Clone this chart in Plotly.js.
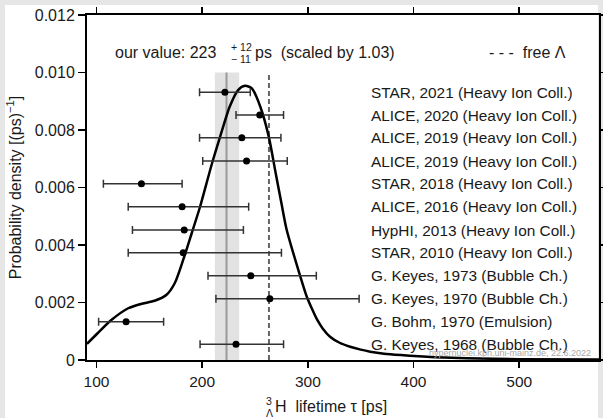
<!DOCTYPE html>
<html>
<head>
<meta charset="utf-8">
<script src="https://cdn.plot.ly/plotly-3.0.1.min.js"></script>
<style>
html,body{margin:0;padding:0;width:603px;height:418px;overflow:hidden;background:#e6e6e6;}
#white{position:absolute;left:5px;top:5px;width:593px;height:413px;background:#fff;}
#chart{position:absolute;left:0;top:0;width:603px;height:418px;}
</style>
</head>
<body>
<div id="white"></div>
<div id="chart"></div>
<script>
// Measurements (top to bottom)
var labels = ["STAR, 2021 (Heavy Ion Coll.)", "ALICE, 2020 (Heavy Ion Coll.)", "ALICE, 2019 (Heavy Ion Coll.)",
  "ALICE, 2019 (Heavy Ion Coll.)", "STAR, 2018 (Heavy Ion Coll.)", "ALICE, 2016 (Heavy Ion Coll.)",
  "HypHI, 2013 (Heavy Ion Coll.)", "STAR, 2010 (Heavy Ion Coll.)", "G. Keyes, 1973 (Bubble Ch.)",
  "G. Keyes, 1970 (Bubble Ch.)", "G. Bohm, 1970 (Emulsion)", "G. Keyes, 1968 (Bubble Ch.)"];
var tau      = [221.5, 254.5, 237.5, 242, 142.5, 181, 183, 182, 246, 264, 128, 232];
var errPlus  = [24, 22.5, 37, 38.5, 38.5, 63, 56, 93, 62, 84.5, 35.5, 45];
var errMinus = [24, 22.5, 40, 41.5, 36, 51, 49, 52, 40.5, 51, 26, 34];
var rowY     = [0.00931, 0.00852, 0.00773, 0.00692, 0.00613, 0.00533, 0.00452, 0.00373, 0.00293, 0.00213, 0.00133, 0.00055];

// Probability density curve
var curveTau = [91, 101, 114, 130, 142, 155, 166, 174, 182, 190, 198, 209, 217, 226, 234, 240.5, 247, 255, 263, 269, 275, 280, 291, 299, 304, 308.5, 314, 321, 330, 340, 350, 359, 372, 388, 405, 420, 450, 500, 575.5];
var curveDen = [0.00056, 0.00093, 0.00139, 0.0018, 0.00195, 0.00206, 0.00226, 0.00267, 0.00348, 0.0044, 0.00533, 0.0068, 0.00777, 0.00881, 0.00939, 0.00954, 0.00945, 0.00881, 0.00777, 0.00661, 0.00545, 0.00452, 0.00313, 0.0022, 0.00177, 0.00142, 0.0011, 0.00081, 0.0006, 0.00046, 0.00036, 0.00029, 0.00022, 0.00017, 0.00013, 0.0001, 0.00006, 0.00003, 0.000015];

// Our value and free Lambda lifetime
var ourValue = 223, ourPlus = 12, ourMinus = 11;
var freeLambda = 263.2;
var markTop = 0.010;

// Axes
var xTickVals = [100, 200, 300, 400, 500];
var yTickVals = [0, 0.002, 0.004, 0.006, 0.008, 0.010, 0.012];
var yTickText = ["0", "0.002", "0.004", "0.006", "0.008", "0.010", "0.012"];

var FONT = "Liberation Sans, Arial, Helvetica, sans-serif";
var TXT = "#1a1a1a";

var traces = [
  {x: [ourValue, ourValue], y: [0, markTop], mode: "lines", line: {color: "#9a9a9a", width: 2}, hoverinfo: "skip"},
  {x: [freeLambda, freeLambda], y: [0, markTop], mode: "lines", line: {color: "#666", width: 2, dash: "5px,3px"}, hoverinfo: "skip"},
  {x: curveTau, y: curveDen, mode: "lines", line: {color: "#000", width: 2.5, shape: "spline", smoothing: 0.7}, hoverinfo: "skip"},
  {x: tau, y: rowY, mode: "markers", marker: {color: "#000", size: 7},
   error_x: {type: "data", symmetric: false, array: errPlus, arrayminus: errMinus, color: "#333", thickness: 1.5, width: 4},
   hoverinfo: "skip"}
];

var annotations = [];
for (var i = 0; i < labels.length; i++) {
  annotations.push({x: 358.3, y: rowY[i], xref: "x", yref: "y", text: labels[i], showarrow: false,
    xanchor: "left", yanchor: "middle", font: {family: FONT, size: 15.4, color: TXT}});
}
annotations.push({x: 215.5, y: 0.01071, xref: "x", yref: "y", text: "our value: " + ourValue, showarrow: false,
  xanchor: "right", yanchor: "middle", font: {family: FONT, size: 16, color: TXT}});
annotations.push({x: 225.4, y: 0.01088, xref: "x", yref: "y", text: "+&nbsp;" + ourPlus, showarrow: false,
  xanchor: "left", yanchor: "middle", font: {family: FONT, size: 10.5, color: TXT}});
annotations.push({x: 225.4, y: 0.01048, xref: "x", yref: "y", text: "\u2212&nbsp;" + ourMinus, showarrow: false,
  xanchor: "left", yanchor: "middle", font: {family: FONT, size: 10.5, color: TXT}});
annotations.push({x: 248.2, y: 0.01071, xref: "x", yref: "y", text: "ps&nbsp;&nbsp;(scaled by 1.03)", showarrow: false,
  xanchor: "left", yanchor: "middle", font: {family: FONT, size: 16, color: TXT}});
annotations.push({x: 546.1, y: 0.01071, xref: "x", yref: "y", text: "- - -&nbsp;&nbsp;free \u039b", showarrow: false,
  xanchor: "right", yanchor: "middle", font: {family: FONT, size: 16, color: TXT}});
annotations.push({x: 570, y: 0.00024, xref: "x", yref: "y", text: "hypernuclei.kph.uni-mainz.de, 22.6.2022", showarrow: false,
  xanchor: "right", yanchor: "middle", font: {family: FONT, size: 9, color: "#a8a8a8"}});
// x-axis title with stacked 3 / Λ before H
annotations.push({x: 0.3633, y: -0.1362, xref: "paper", yref: "paper", text: "H&nbsp;&nbsp;lifetime \u03c4 [ps]", showarrow: false,
  xanchor: "left", yanchor: "middle", font: {family: FONT, size: 16, color: TXT}});
annotations.push({x: 0.3555, y: -0.1188, xref: "paper", yref: "paper", text: "3", showarrow: false,
  xanchor: "center", yanchor: "middle", font: {family: FONT, size: 10.5, color: TXT}});
annotations.push({x: 0.3555, y: -0.1525, xref: "paper", yref: "paper", text: "\u039b", showarrow: false,
  xanchor: "center", yanchor: "middle", font: {family: FONT, size: 10.5, color: TXT}});

var layout = {
  width: 603, height: 418,
  margin: {l: 87, r: 4, t: 15, b: 58, pad: 0},
  paper_bgcolor: "rgba(0,0,0,0)",
  plot_bgcolor: "rgba(0,0,0,0)",
  showlegend: false,
  font: {family: FONT, color: TXT, size: 16},
  xaxis: {
    range: [91, 575.5], tickvals: xTickVals, ticks: "outside", ticklen: 6, tickwidth: 1.5, tickcolor: "#000",
    showline: true, linecolor: "#000", linewidth: 2, mirror: "ticks", showgrid: false, zeroline: false,
    tickfont: {family: FONT, size: 15.5, color: TXT}
  },
  yaxis: {
    range: [0, 0.012], tickvals: yTickVals, ticktext: yTickText, ticks: "outside", ticklen: 7, tickwidth: 1.5, tickcolor: "#000",
    showline: true, linecolor: "#000", linewidth: 2, mirror: "ticks", showgrid: false, zeroline: false,
    tickfont: {family: FONT, size: 16, color: TXT},
    title: {text: "Probability density [(ps)<sup>\u22121</sup>]", font: {family: FONT, size: 16, color: TXT}, standoff: 9}
  },
  shapes: [
    {type: "rect", xref: "x", yref: "y", x0: ourValue - ourMinus, x1: ourValue + ourPlus, y0: 0, y1: markTop,
     fillcolor: "#e2e2e2", line: {width: 0}, layer: "below"}
  ],
  annotations: annotations
};

Plotly.newPlot("chart", traces, layout, {displayModeBar: false, staticPlot: true});
</script>
</body>
</html>
